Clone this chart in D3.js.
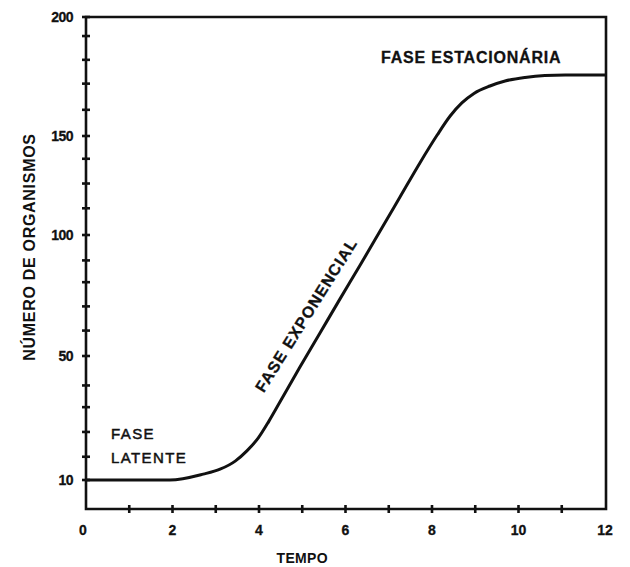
<!DOCTYPE html>
<html>
<head>
<meta charset="utf-8">
<script src="https://cdn.jsdelivr.net/npm/d3@7"></script>
<style>
  html, body { margin: 0; padding: 0; background: #fff; }
  svg { display: block; }
  text { font-family: "Liberation Sans", Arial, Helvetica, sans-serif; fill: #111; }
</style>
</head>
<body>
<svg id="chart" width="630" height="567"></svg>
<script>
// ---- data ----
const time  = [0, 1.94, 2.71, 3.1, 3.45, 3.72, 3.98, 4.23, 4.51, 4.95, 5.41, 5.87, 6.34, 6.8, 7.26, 7.72, 8.12, 8.42, 8.69, 8.97, 9.34, 9.69, 10.15, 10.61, 11.08, 12];
const count = [10, 10, 11.9, 13.5, 16.1, 19.4, 23.5, 29, 35.8, 46.5, 59.5, 73.5, 87.6, 102, 119.2, 136.4, 150.4, 158.4, 163.9, 167.9, 171, 173.1, 174.6, 175.4, 175.6, 175.6];

const xTickLabels = [0, 2, 4, 6, 8, 10, 12];
const xMinorTicks = [1, 2, 3, 4, 5, 6, 7, 8, 9, 10, 11];
const yTickLabels = [10, 50, 100, 150, 200];
const yMinorTicks = [17.5, 25.5, 33.5, 40.5, 60.5, 70.5, 80.5, 89.5, 113.5, 126, 138.5, 161, 172, 182, 192];

const phaseLabels = ["FASE", "LATENTE"];
const expLabel = "FASE EXPONENCIAL";
const statLabel = "FASE ESTACIONÁRIA";
const xTitle = "TEMPO";
const yTitle = "NÚMERO DE ORGANISMOS";

// ---- layout ----
const svg = d3.select("#chart");
const mLeft = 86, mRight = 605, mTop = 17, axisY = 509;
const x = d3.scaleLinear().domain([0, 12]).range([mLeft, mRight]);
// the printed axis is not linear: labels are placed on a uniform tick grid
const y = d3.scaleLinear().domain([10, 50, 100, 150, 200]).range([480, 356, 235, 136, mTop]);

const ink = "#111";

// frame
svg.append("path")
  .attr("d", `M${mLeft},${axisY} L${mLeft},${mTop} L${mRight + 1},${mTop} L${mRight + 1},${axisY} Z`)
  .attr("fill", "none").attr("stroke", ink).attr("stroke-width", 2.6)
  .attr("stroke-linejoin", "miter");

// y ticks (cross the axis)
const yAll = yTickLabels.concat(yMinorTicks);
svg.append("g").selectAll("line").data(yAll).join("line")
  .attr("x1", mLeft - 4).attr("x2", mLeft + 4)
  .attr("y1", d => y(d)).attr("y2", d => y(d))
  .attr("stroke", ink).attr("stroke-width", 2.6);

// x ticks
svg.append("g").selectAll("line").data(xMinorTicks).join("line")
  .attr("x1", d => x(d)).attr("x2", d => x(d))
  .attr("y1", axisY - 4).attr("y2", axisY + 4)
  .attr("stroke", ink).attr("stroke-width", 2.6);

// y tick labels
svg.append("g").selectAll("text").data(yTickLabels).join("text")
  .attr("x", mLeft - 13).attr("y", d => y(d)).attr("dy", "0.36em")
  .attr("text-anchor", "end")
  .attr("font-size", 14).attr("font-weight", "bold")
  .attr("letter-spacing", -0.5)
  .attr("stroke", ink).attr("stroke-width", 0.3)
  .text(d => d);

// x tick labels
svg.append("g").selectAll("text").data(xTickLabels).join("text")
  .attr("x", d => x(d) - (d === 0 ? 3 : 0)).attr("y", 535)
  .attr("text-anchor", "middle")
  .attr("font-size", 14).attr("font-weight", "bold")
  .attr("stroke", ink).attr("stroke-width", 0.3)
  .text(d => d);

// axis titles
svg.append("text")
  .attr("x", x(5)).attr("y", 563)
  .attr("text-anchor", "middle")
  .attr("font-size", 14).attr("font-weight", "bold")
  .attr("letter-spacing", 0.3)
  .text(xTitle);

svg.append("text")
  .attr("transform", `translate(35,247) rotate(-90)`)
  .attr("text-anchor", "middle")
  .attr("font-size", 16).attr("font-weight", "bold")
  .attr("letter-spacing", 0.7)
  .text(yTitle);

// growth curve
const pts = time.map((t, i) => [t, count[i]]);
const line = d3.line().x(d => x(d[0])).y(d => y(d[1])).curve(d3.curveMonotoneX);
svg.append("path").datum(pts)
  .attr("d", line)
  .attr("fill", "none").attr("stroke", ink).attr("stroke-width", 3)
  .attr("stroke-linecap", "round").attr("stroke-linejoin", "round");

// phase labels
svg.append("g").selectAll("text").data(phaseLabels).join("text")
  .attr("x", 111).attr("y", (d, i) => 439 + i * 24)
  .attr("font-size", 15)
  .attr("letter-spacing", 1.4)
  .attr("stroke", ink).attr("stroke-width", 0.5)
  .text(d => d);

svg.append("text")
  .attr("transform", `translate(306,315) rotate(-58)`)
  .attr("text-anchor", "middle").attr("dy", "0.36em")
  .attr("font-size", 16).attr("font-weight", "bold")
  .attr("letter-spacing", 1)
  .attr("stroke", ink).attr("stroke-width", 0.3)
  .text(expLabel);

svg.append("text")
  .attr("x", 381).attr("y", 63)
  .attr("font-size", 16).attr("font-weight", "bold")
  .attr("letter-spacing", 0.8)
  .attr("stroke", ink).attr("stroke-width", 0.3)
  .text(statLabel);
</script>
</body>
</html>
